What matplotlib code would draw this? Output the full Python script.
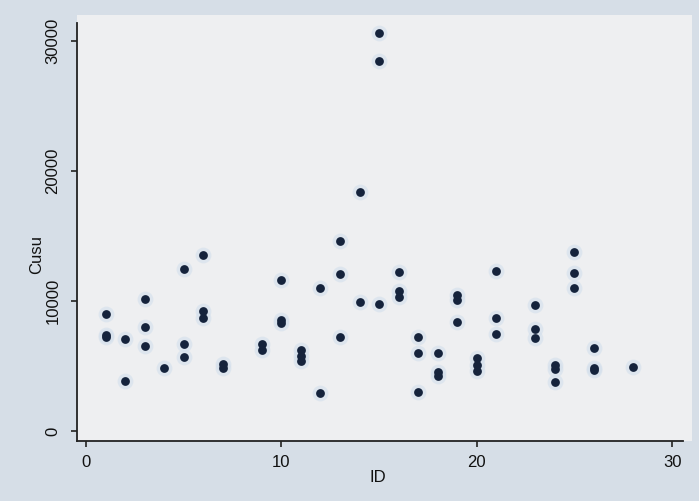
import matplotlib
matplotlib.use('Agg')
import matplotlib.pyplot as plt
from matplotlib.patches import Rectangle

# ID / Cusu values
ids = [1, 1, 1, 2, 2, 3, 3, 3, 4, 5, 5, 5, 6, 6, 6, 7, 7, 9, 9,
       10, 10, 10, 11, 11, 11, 12, 12, 13, 13, 13, 14, 14, 15, 15, 15,
       16, 16, 16, 17, 17, 17, 18, 18, 18, 19, 19, 19, 20, 20, 20,
       21, 21, 21, 23, 23, 23, 24, 24, 24, 25, 25, 25, 26, 26, 26, 28]
cusu = [9000, 7400, 7200, 7050, 3870, 10150, 8000, 6550, 4870, 12500, 6680, 5720,
        13560, 9250, 8700, 5150, 4820, 6700, 6250,
        11580, 8500, 8300, 6200, 5800, 5400, 11000, 2950, 14650, 12100, 7250,
        18420, 9900, 30600, 28500, 9750,
        12220, 10750, 10300, 7220, 6030, 3030, 5970, 4550, 4250,
        10480, 10050, 8380, 5600, 5080, 4580,
        12330, 8680, 7450, 9700, 7830, 7150, 5100, 4800, 3800,
        13800, 12130, 10980, 6370, 4850, 4700, 4950]

x_ticks = [0, 10, 20, 30]
y_ticks = [0, 10000, 20000, 30000]

plt.rcParams['font.family'] = ['Liberation Sans', 'DejaVu Sans']

fig = plt.figure(figsize=(6.99, 5.01), dpi=100, facecolor='#d6dee7')
# lighter paper area behind the plot
fig.patches.append(Rectangle((0.11, 0.12), 0.88, 0.85, transform=fig.transFigure,
                             facecolor='#eeeff1', edgecolor='none', zorder=-5))

ax = fig.add_axes([0.1102, 0.1198, 0.867, 0.8343])
ax.set_facecolor('none')
ax.set_zorder(2)

# soft halo then dark dot
ax.scatter(ids, cusu, s=130, color='#d3dfec', alpha=0.6, linewidths=0, zorder=2)
ax.scatter(ids, cusu, s=40, color='#15233c', linewidths=0, zorder=3)

ax.set_xlim(-0.46, 30.56)
ax.set_ylim(-770, 31390)
ax.spines['top'].set_visible(False)
ax.spines['right'].set_visible(False)
for s in ['left', 'bottom']:
    ax.spines[s].set_color('#222222')
    ax.spines[s].set_linewidth(1.3)

ax.set_xticks(x_ticks)
ax.set_yticks(y_ticks)
ax.tick_params(direction='out', length=4, width=1.2, color='#222222',
               labelsize=12, labelcolor='#111111')
ax.tick_params(axis='x', pad=6)
ax.tick_params(axis='y', pad=8)
for lab in ax.get_yticklabels():
    lab.set_rotation(90)
    lab.set_va('center')

fig.text(378 / 699, 1 - 477 / 501, 'ID', ha='center', va='center', fontsize=12, color='#111111')
fig.text(37 / 699, 1 - 255 / 501, 'Cusu', ha='center', va='center', rotation=90,
         fontsize=12, color='#111111')

fig.savefig('out.png', dpi=100, facecolor=fig.get_facecolor())
